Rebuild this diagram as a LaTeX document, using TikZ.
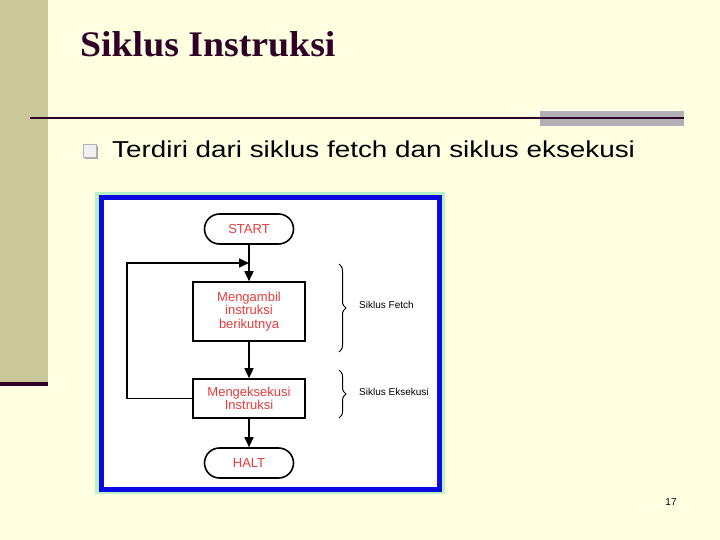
\documentclass[tikz,border=0pt]{standalone}
\usepackage{fontspec}
\setmainfont{Liberation Sans}
\newfontfamily\titlefont{Liberation Serif}
\usetikzlibrary{arrows.meta,decorations.pathreplacing,shapes.misc}
\definecolor{bgyellow}{RGB}{255,255,226}
\definecolor{sidebar}{RGB}{202,200,152}
\definecolor{darkplum}{RGB}{48,0,40}
\definecolor{greybar}{RGB}{178,176,182}
\definecolor{mintframe}{RGB}{184,240,200}
\definecolor{blueframe}{RGB}{10,10,225}
\definecolor{flowred}{RGB}{228,60,60}
\tikzset{
  terminal/.style={draw=black, line width=1.6pt, rounded rectangle, minimum width=89pt, minimum height=30pt, inner sep=0pt, text=flowred, font=\fontsize{13}{14}\selectfont},
  procbox/.style={draw=black, line width=1.6pt, rectangle, minimum width=112pt, inner sep=0pt, text=flowred, align=center, font=\fontsize{13}{13.5}\selectfont},
  flow/.style={line width=1.6pt, -{Triangle[length=10pt,width=9pt]}},
  curly/.style={line width=1pt, decorate, decoration={brace, amplitude=7pt}},
  sidelabel/.style={anchor=west, inner sep=0pt, font=\fontsize{10}{11}\selectfont},
}
\begin{document}
\begin{tikzpicture}[x=1pt,y=-1pt]
\useasboundingbox (0,0) rectangle (720,540);
\fill[bgyellow] (0,0) rectangle (720,540);
% sidebar
\fill[sidebar] (0,0) rectangle (48,384);
\fill[darkplum] (0,382) rectangle (48,386);
% title
\node[anchor=base west, inner sep=0pt, text=darkplum] (title) at (80,57)
  {\scalebox{1.05}[1]{\titlefont\bfseries\fontsize{36}{40}\selectfont Siklus Instruksi}};
% rule
\fill[greybar] (540,111) rectangle (684,126);
\draw[darkplum, line width=2pt] (30,118) -- (684,118);
% bullet
\fill[gray!70] (85,146) rectangle (98,159);
\filldraw[fill=gray!12, draw=gray!60, line width=0.6pt] (83,144) rectangle (96,157);
\node[anchor=base west, inner sep=0pt] (bullet) at (112,158)
  {\scalebox{1.21}[1]{\fontsize{23}{26}\selectfont Terdiri dari siklus fetch dan siklus eksekusi}};
% picture frame
\fill[mintframe] (95,192) rectangle (445,494);
\filldraw[fill=white, draw=blueframe, line width=5pt] (101,198) rectangle (439,489);
% flowchart
\node[terminal] (start) at (249,229) {START};
\node[procbox, minimum height=59pt] (fetch) at (249,311.5) {Mengambil\\instruksi\\berikutnya};
\node[procbox, minimum height=39pt] (exec) at (249,398.5) {Mengeksekusi\\Instruksi};
\node[terminal] (halt) at (249,463) {HALT};
\coordinate (join) at (249,263);
\coordinate (lb) at (127,398.5);
\coordinate (lt) at (127,263);
\draw[line width=1.6pt] (start.south) -- (join);
\draw[flow] (join) -- (fetch.north);
\draw[flow] (fetch.south) -- (exec.north);
\draw[flow] (exec.south) -- (halt.north);
\draw[flow] (exec.west) -- (lb) -- (lt) -- (join);
% braces
\coordinate (fb1) at (339,264);
\coordinate (fb2) at (339,352);
\coordinate (eb1) at (339,370);
\coordinate (eb2) at (339,418);
\draw[curly] (fb1) -- (fb2);
\draw[curly] (eb1) -- (eb2);
\node[sidelabel] (flabel) at (359,305) {Siklus Fetch};
\node[sidelabel] (elabel) at (359,392) {Siklus Eksekusi};
% page number
\node[font=\fontsize{10}{12}\selectfont, inner sep=0pt] (page) at (671,502) {17};
\end{tikzpicture}
\end{document}
